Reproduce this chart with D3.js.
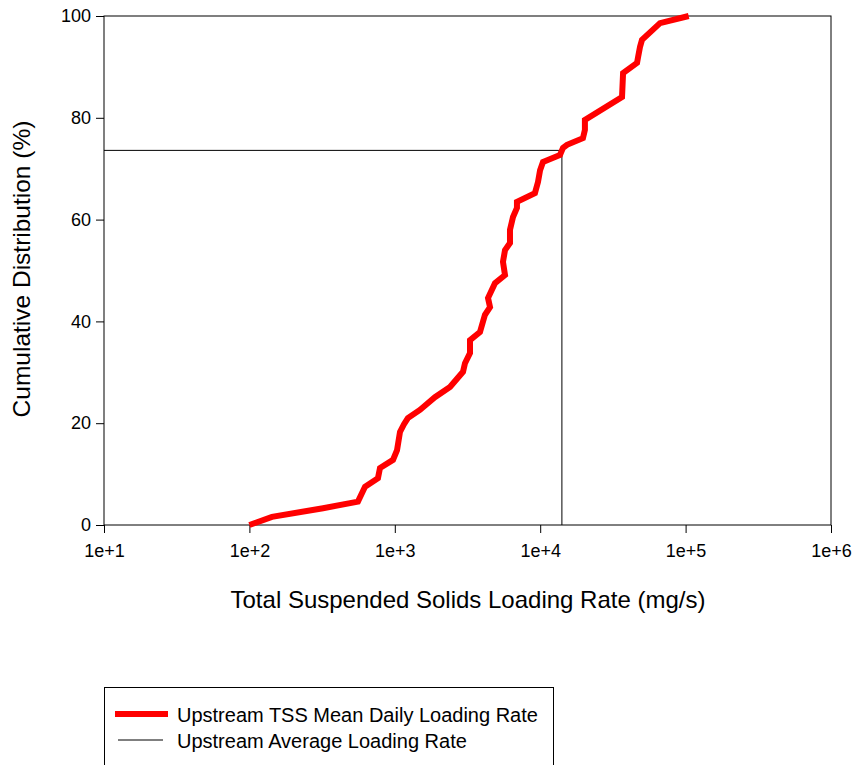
<!DOCTYPE html>
<html>
<head>
<meta charset="utf-8">
<script src="https://cdn.jsdelivr.net/npm/d3@7"></script>
<style>
  html, body { margin: 0; padding: 0; background: #fff; }
  svg { display: block; font-family: "Liberation Sans", Arial, sans-serif; }
</style>
</head>
<body>
<svg id="chart" width="860" height="765"></svg>
<script>
// Cumulative distribution of upstream TSS mean daily loading rate
const loadingRate = [100, 143, 321, 558, 624, 766, 791, 972, 1036, 1086, 1157, 1230, 1488, 1888, 2397,
  2946, 3040, 3290, 3290, 3853, 4170, 4517, 4376, 4887, 5727, 5546, 5727, 6197, 6197, 6500, 6920, 6920,
  9200, 9660, 9980, 10450, 13680, 14350, 15290, 19680, 20300, 20300, 36540, 37150, 46360, 47100, 48570,
  50120, 66680, 105000];
const cumulativePct = [0, 1.6, 3.3, 4.6, 7.5, 9.2, 11.2, 12.8, 14.7, 18.3, 19.8, 21.0, 22.6, 25.1, 27.1,
  30.1, 31.8, 33.8, 36.3, 37.9, 41.3, 42.8, 44.6, 47.5, 49.1, 51.7, 54.0, 55.4, 58.0, 60.5, 62.3, 63.5,
  65.2, 67.4, 69.7, 71.3, 72.7, 74.1, 74.7, 76.0, 77.6, 79.6, 84.1, 88.8, 90.8, 91.9, 93.9,
  95.3, 98.6, 100];

// Average loading rate and its cumulative position
const averageRate = 14100;
const averagePct = 73.6;

const xTickValues = [1e1, 1e2, 1e3, 1e4, 1e5, 1e6];
const xTickLabels = ["1e+1", "1e+2", "1e+3", "1e+4", "1e+5", "1e+6"];
const yTickValues = [0, 20, 40, 60, 80, 100];

const legendLabels = ["Upstream TSS Mean Daily Loading Rate", "Upstream Average Loading Rate"];

const svg = d3.select("#chart");
const plotLeft = 104, plotRight = 831, plotTop = 16, plotBottom = 525;
const fontFamily = "'Liberation Sans', Arial, sans-serif";

const x = d3.scaleLog().domain([1e1, 1e6]).range([plotLeft, plotRight]);
const y = d3.scaleLinear().domain([0, 100]).range([plotBottom, plotTop]);

// frame
svg.append("rect")
  .attr("x", plotLeft).attr("y", plotTop)
  .attr("width", plotRight - plotLeft).attr("height", plotBottom - plotTop)
  .attr("fill", "none").attr("stroke", "#000").attr("stroke-width", 1);

// axes
const xAxis = d3.axisBottom(x).tickValues(xTickValues)
  .tickFormat((d, i) => xTickLabels[i]).tickSize(8).tickPadding(11);
const gx = svg.append("g").attr("transform", `translate(0,${plotBottom})`).call(xAxis);
gx.select(".domain").remove();
gx.selectAll("text").attr("font-size", 18).attr("fill", "#000").attr("font-family", fontFamily);
gx.selectAll("line").attr("stroke", "#000");

const yAxis = d3.axisLeft(y).tickValues(yTickValues).tickSize(8).tickPadding(5);
const gy = svg.append("g").attr("transform", `translate(${plotLeft},0)`).call(yAxis);
gy.select(".domain").remove();
gy.selectAll("text").attr("font-size", 18).attr("fill", "#000").attr("font-family", fontFamily);
gy.selectAll("line").attr("stroke", "#000");

// axis titles
svg.append("text")
  .attr("x", 468).attr("y", 608)
  .attr("text-anchor", "middle").attr("font-size", 24)
  .text("Total Suspended Solids Loading Rate (mg/s)");

svg.append("text")
  .attr("transform", `translate(30,${269}) rotate(-90)`)
  .attr("text-anchor", "middle").attr("font-size", 24.5)
  .text("Cumulative Distribution (%)");

// average loading rate reference lines
svg.append("path")
  .attr("d", d3.line()([[plotLeft, y(averagePct)], [x(averageRate), y(averagePct)], [x(averageRate), plotBottom]]))
  .attr("fill", "none").attr("stroke", "#000").attr("stroke-width", 1);

// cumulative distribution curve
const pts = loadingRate.map((v, i) => [x(v), y(cumulativePct[i])]);
svg.append("path")
  .attr("d", d3.line()(pts))
  .attr("fill", "none").attr("stroke", "#ff0000").attr("stroke-width", 6)
  .attr("stroke-linejoin", "miter").attr("stroke-miterlimit", 3);

// legend
const lg = svg.append("g");
lg.append("rect").attr("x", 104.5).attr("y", 687.5).attr("width", 449).attr("height", 90)
  .attr("fill", "none").attr("stroke", "#000");
lg.append("line").attr("x1", 115).attr("x2", 168).attr("y1", 714).attr("y2", 714)
  .attr("stroke", "#ff0000").attr("stroke-width", 6);
lg.append("line").attr("x1", 118).attr("x2", 163).attr("y1", 740).attr("y2", 740)
  .attr("stroke", "#000").attr("stroke-width", 1);
lg.selectAll("text.lbl").data(legendLabels).enter().append("text")
  .attr("x", 177).attr("y", (d, i) => 721.5 + i * 26)
  .attr("font-size", 20).text(d => d);
</script>
</body>
</html>
